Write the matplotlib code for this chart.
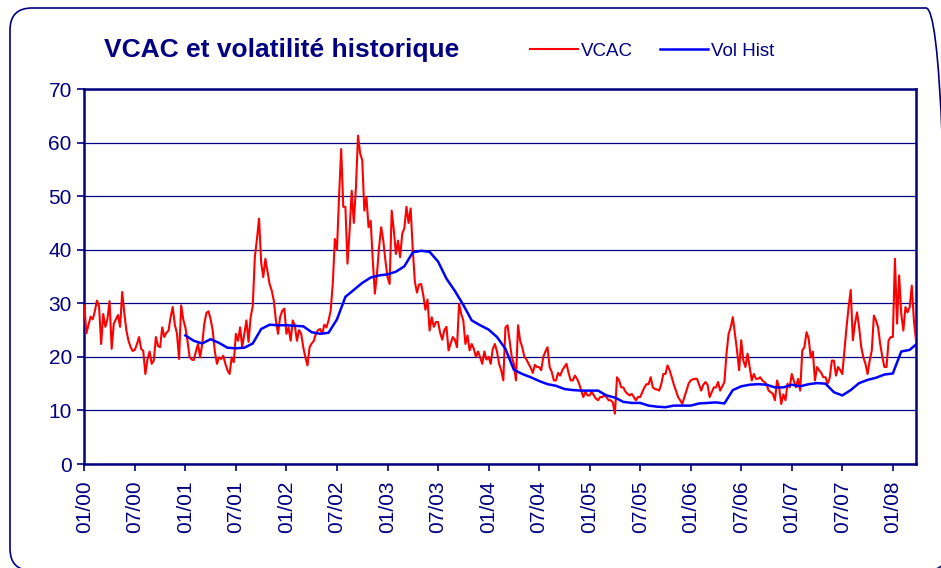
import matplotlib
matplotlib.use('Agg')
import matplotlib.pyplot as plt
from matplotlib.patches import FancyBboxPatch
import numpy as np

plt.rcParams['font.family'] = ['Liberation Sans', 'DejaVu Sans']

navy = '#000080'

# VCAC, about one value per week (4 per month), Jan 2000 -> Mar 2008
vcac = [
    29.6, 24.4, 26, 27.5,   27, 28.5, 30.5, 29.5,   22.4, 28, 25.6, 27.1,   30.4, 21.5, 26.2, 27,
    27.8, 25.6, 32.1, 28.2,   24.9, 23, 21.8, 21.1,   21.3, 22.4, 23.7, 21.5,   21.1, 16.8, 19.5, 21,
    18.7, 19.3, 23.7, 22,   21.8, 25.5, 23.7, 24.5,   24.9, 27.4, 29.3, 26,   24.4, 19.6, 29.6, 27,
    # 2001
    25.5, 23, 20, 19.5,   19.4, 21, 22.4, 19.9,   22.4, 26.2, 28.2, 28.5,   27, 24.9, 21, 18.7,
    19.9, 19.6, 20.2, 18.7,   17.5, 16.8, 19.9, 19,   24.3, 23, 25.5, 21.8,   24.3, 26.8, 22.8, 27.4,
    29.5, 38.6, 42, 45.8,   37.6, 34.9, 38.3, 36,   33.6, 32.4, 30.5, 26.8,   24.3, 27.4, 28.6, 29,
    # 2002
    24.3, 25.5, 23, 26.8,   25.8, 23, 25, 24.3,   21.8, 19.9, 18.4, 21.8,   22.5, 23, 24.3, 25,
    25.2, 24.3, 26, 25.5,   26.8, 28.6, 33.6, 42,   40, 50, 58.8, 48,   48, 37.4, 43.5, 51,
    45, 51.6, 61.3, 58,   56.7, 47.3, 49.8, 44.2,   45.4, 38, 31.8, 35.5,   40.5, 44.2, 41.7, 38,
    # 2003
    34.9, 33.6, 47.3, 43.6,   39.2, 41.7, 38.6, 43,   44, 48, 45, 47.7,   40, 34, 32, 33.5,
    33.6, 31.5, 28.8, 30.7,   24.9, 27.4, 25.6, 26.5,   26.5, 24.5, 23.2, 25,   25.6, 21.2, 22.5, 23.7,
    23.2, 21.8, 29.9, 28,   26.8, 22.4, 24, 21.2,   22.4, 21.5, 20, 21,   19.9, 18.7, 21, 19.5,
    # 2004
    20, 18.7, 21.5, 22.4,   21, 18.7, 17.5, 15.6,   25.5, 25.9, 23, 20,   18.7, 15.6, 25.9, 23,
    21.8, 20, 19.5, 18.7,   18, 17, 18.5, 18.1,   18.1, 17.5, 20, 21,   21.8, 18.1, 17.2, 15.6,
    15.6, 17, 16.5, 17.5,   18.1, 18.7, 17, 15.6,   15.6, 16.5, 15.9, 15,   13.7, 12.5, 13.5, 12.8,
    # 2005
    12.8, 13.5, 12.8, 12.2,   11.9, 12.5, 12.5, 12.8,   12.5, 11.9, 11.9, 11.5,   9.4, 16.2, 15.6, 14.3,
    14.3, 13.5, 13.1, 12.8,   13.1, 12.5, 11.9, 12.5,   12.5, 13.4, 14.3, 14.9,   14.9, 16.2, 14.3, 14,
    13.9, 13.7, 14.9, 16.8,   16.8, 18.4, 17.5, 16.2,   14.8, 13.7, 12.5, 11.9,   11.2, 12.5, 13.7, 15,
    # 2006
    15.6, 15.8, 15.9, 15.9,   14.8, 13.7, 14.8, 15.3,   14.8, 12.5, 13.4, 14.3,   14.3, 15.3, 13.7, 14.5,
    15.3, 20.6, 24.3, 25.5,   27.4, 24.3, 21.2, 17.5,   23.1, 19.3, 18.1, 20.6,   18.1, 15.6, 16.8, 15.9,
    15.9, 16.2, 15.6, 15.3,   14.9, 13.7, 13.4, 13.1,   11.9, 15.6, 14.3, 11.2,   13, 11.9, 15, 14.3,
    # 2007
    16.8, 15.5, 14.3, 15.9,   13.7, 21.2, 21.8, 24.6,   23.5, 19.9, 21, 15.6,   18.1, 17.5, 17, 16.2,
    16.2, 15, 16, 19.3,   19.3, 16.5, 18.1, 17.5,   16.8, 21.2, 25.5, 29.3,   32.5, 23.1, 26.2, 28.3,
    25.5, 21.8, 19.9, 18.7,   16.8, 19.3, 21.2, 27.7,   26.8, 25.5, 22.4, 20,   18.1, 18.1, 23.1, 23.7,
    # 2008
    23.7, 38.3, 26.2, 35.2,   28, 24.9, 29.3, 28.3,   29.3, 33.3, 26.8, 23,
]

# historical volatility, monthly from Jan 2001, last value at the end of the series
vol_hist = [
    24, 23, 22.5, 23.3, 22.6, 21.7, 21.6, 21.7, 22.5, 25.2, 26, 25.9,
    25.9, 25.8, 25.7, 24.6, 24.3, 24.5, 27, 31.2, 32.5, 33.8, 34.8, 35.2,
    35.4, 35.9, 36.9, 39.5, 39.8, 39.6, 37.8, 34.6, 32.3, 29.7, 26.8, 25.9,
    25.1, 23.7, 21.5, 17.6, 16.8, 16.2, 15.5, 14.9, 14.6, 14, 13.8, 13.7,
    13.7, 13.7, 12.8, 12.4, 11.6, 11.4, 11.4, 10.9, 10.7, 10.6, 10.9, 10.9,
    10.9, 11.3, 11.4, 11.5, 11.3, 13.8, 14.5, 14.8, 14.9, 14.8, 14.3, 14.3,
    14.8, 14.5, 14.9, 15.1, 15, 13.4, 12.8, 13.8, 15.1, 15.7, 16.1, 16.7,
    16.9, 21, 21.3, 22.3,
]

tick_labels = ['01/00', '07/00', '01/01', '07/01', '01/02', '07/02', '01/03', '07/03', '01/04',
               '07/04', '01/05', '07/05', '01/06', '07/06', '01/07', '07/07', '01/08']

vcac_x = 2000 + np.arange(len(vcac)) / 48
vol_x = np.append(2001 + np.arange(len(vol_hist) - 1) / 12, vcac_x[-1])

fig = plt.figure(figsize=(9.41, 5.68), dpi=100)

# rounded outer frame (in inches so the corners stay round), right/bottom sides run off the image
frame = FancyBboxPatch((0.10, -0.026), 9.38, 5.626, boxstyle='round,pad=0,rounding_size=0.22',
                       transform=fig.dpi_scale_trans, facecolor='none', edgecolor=navy,
                       linewidth=1.2, zorder=-1)
fig.patches.append(frame)

ax = fig.add_axes([84.3 / 941, 104 / 568, (916 - 84.3) / 941, (464 - 89) / 568])
ax.set_facecolor('white')

l1, = ax.plot(vcac_x, vcac, color='#ff0000', lw=1.5, label='VCAC', zorder=3)
l2, = ax.plot(vol_x, vol_hist, color='#0000ff', lw=1.8, label='Vol Hist', zorder=4)

ax.set_xlim(vcac_x[0], vcac_x[-1])
ax.set_ylim(0, 70)
ax.set_yticks(range(0, 71, 10))
ax.set_xticks(2000 + np.arange(len(tick_labels)) * 0.5)
ax.set_xticklabels(tick_labels, rotation=90)
ax.yaxis.grid(True, color=navy, lw=0.9)
ax.set_axisbelow(True)

for s in ax.spines.values():
    s.set_color(navy)
    s.set_linewidth(1.8)
ax.tick_params(axis='both', colors=navy, labelcolor=navy, labelsize=15, direction='out',
               length=5, width=1.2)
ax.tick_params(axis='x', pad=7)
ax.tick_params(axis='y', pad=4)

fig.text(282 / 941, 1 - 50 / 568, 'VCAC et volatilité historique', ha='center', va='center',
         fontsize=19, weight='bold', color=navy)

fig.legend([l1, l2], ['VCAC', 'Vol Hist'], loc='center', bbox_to_anchor=(652 / 941, 1 - 51 / 568),
           ncol=2, frameon=False, fontsize=13.5, handlelength=2.6, handletextpad=0.15,
           columnspacing=1.4, labelcolor=navy)

fig.savefig('out.png', dpi=100, facecolor='white')
